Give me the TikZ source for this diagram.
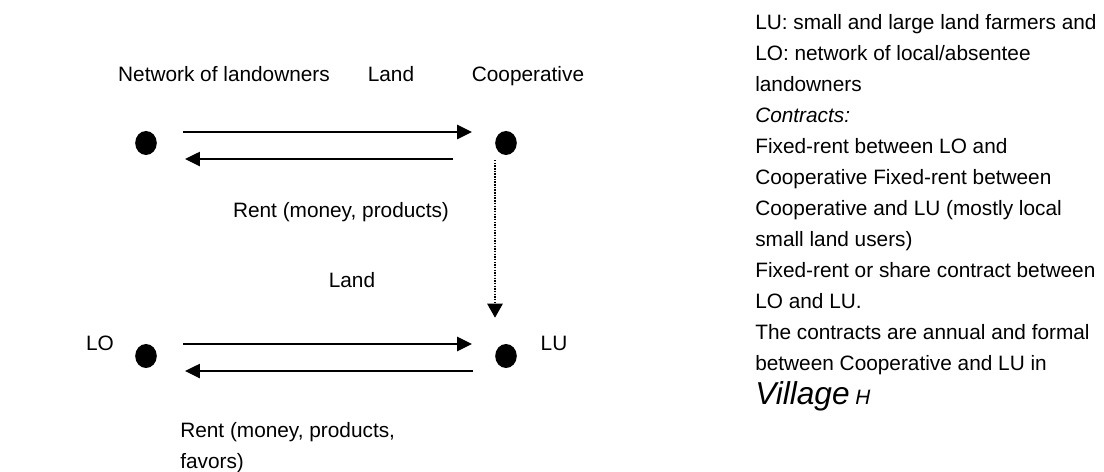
\documentclass[tikz,border=0pt]{standalone}
\usepackage{fontspec}
\setmainfont{Liberation Sans}
\usetikzlibrary{arrows.meta,positioning,shapes.geometric}

\begin{document}
\begin{tikzpicture}[
  x=0.025cm, y=-0.025cm,
  font=\fontsize{14.8}{22}\selectfont,
  dot/.style={ellipse, fill=black, inner sep=0pt, minimum width=0.54cm, minimum height=0.6cm},
  arr/.style={-{Triangle[length=10.5pt,width=10pt]}, line width=1.4pt},
  dotarr/.style={-{Triangle[length=10pt,width=11pt]}, line width=1.1pt, dash pattern=on 1pt off 0.9pt},
  lbl/.style={inner sep=0pt, anchor=base}
]
\useasboundingbox (0,0) rectangle (1104,472);
% actors
\node[dot] (lonet) at (146,143) {};
\node[dot] (coop) at (506,143) {};
\node[dot] (lo) at (146,356) {};
\node[dot] (lu) at (506,356) {};
% labels
\node[lbl] (lonetlbl) at (224,82) {Network of landowners};
\node[lbl] (landtop) at (391,82) {Land};
\node[lbl] (cooplbl) at (528,82) {Cooperative};
\node[lbl] (rentup) at (341,217) {Rent (money, products)};
\node[lbl] (landlow) at (352,287) {Land};
\node[lbl] (lolbl) at (100,350) {LO};
\node[lbl] (lulbl) at (554,350) {LU};
% multi-line nodes: base sits on the last line
\node[inner sep=0pt, anchor=base west, align=left] (rentlow) at (180,468)
  {Rent (money, products,\\favors)};
% flows
\draw[arr, shorten <=0.65cm, shorten >=0.575cm] ([yshift=0.275cm]lonet.east) -- ([yshift=0.275cm]coop.west);
\draw[arr, shorten <=1.05cm, shorten >=0.7cm] ([yshift=-0.4cm]coop.west) -- ([yshift=-0.4cm]lonet.east);
\draw[arr, shorten <=0.65cm, shorten >=0.575cm] ([yshift=0.3cm]lo.east) -- ([yshift=0.3cm]lu.west);
\draw[arr, shorten <=0.55cm, shorten >=0.7cm] ([yshift=-0.375cm]lu.west) -- ([yshift=-0.375cm]lo.east);
\draw[dotarr, shorten <=0.12cm, shorten >=0.65cm] ([xshift=-0.275cm]coop.south) -- ([xshift=-0.275cm]lu.north);
% legend
\node[inner sep=0pt, anchor=base west, align=left] (notes) at (755,404)
  {LU: small and large land farmers and\\
   LO: network of local/absentee\\
   landowners\\
   \textit{Contracts:}\\
   Fixed-rent between LO and\\
   Cooperative Fixed-rent between\\
   Cooperative and LU (mostly local\\
   small land users)\\
   Fixed-rent or share contract between\\
   LO and LU.\\
   The contracts are annual and formal\\
   between Cooperative and LU in\\[2pt]
   {\fontsize{22.5}{24}\selectfont\itshape Village} \textit{H}};
\end{tikzpicture}
\end{document}
